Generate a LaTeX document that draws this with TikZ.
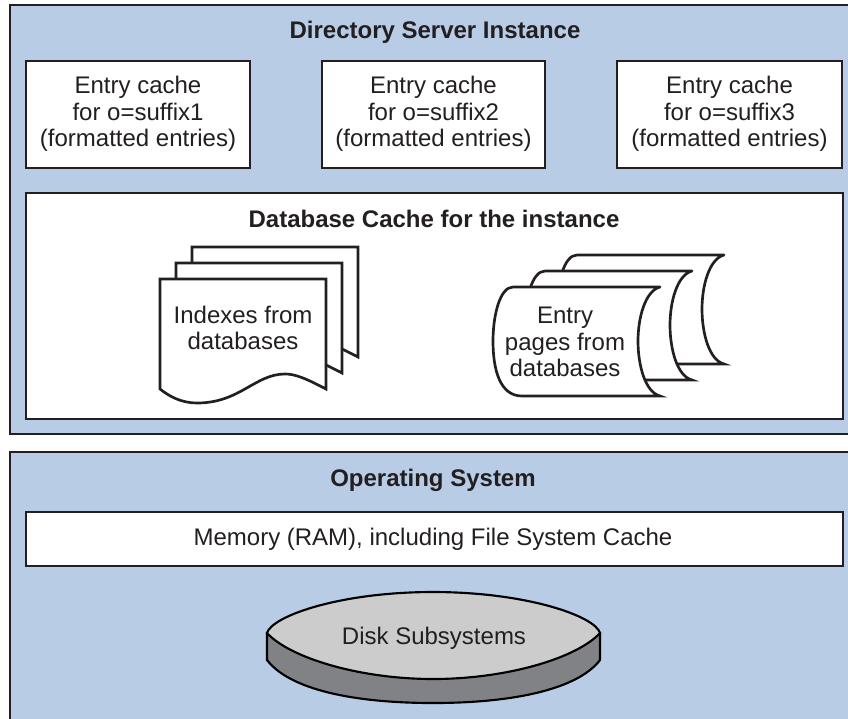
\documentclass[tikz,border=0pt]{standalone}
\usepackage{fontspec}
\setmainfont{Liberation Sans}
\definecolor{panelblue}{HTML}{B8CCE6}
\definecolor{inkdark}{HTML}{231F20}
\definecolor{disktop}{HTML}{CCCCCC}
\definecolor{diskside}{HTML}{808285}
\tikzset{
    panel/.style={draw=inkdark,line width=2.2pt,fill=panelblue},
    whitebox/.style={draw=inkdark,line width=2.2pt,fill=white},
    thinbox/.style={draw=inkdark,line width=1pt,fill=white},
    sheet/.style={draw=inkdark,line width=2pt,fill=white,line join=miter},
    txt/.style={text=inkdark,align=center,font=\fontsize{18}{20}\selectfont,inner sep=0pt},
    txtbold/.style={txt,font=\fontsize{18}{20}\selectfont\bfseries},
  }
\begin{document}
\begin{tikzpicture}[x=0.75pt,y=-0.75pt]
    \useasboundingbox (0,0) rectangle (848,718);
    \clip (0,0) rectangle (848,718);
    %panneaux
    \draw[panel] (10,5) rectangle (870,434);
    \draw[panel] (10,452) rectangle (870,740);
    \node[txtbold] (instance) at (435,32) {Directory Server Instance};
    \node[txtbold] (os) at (433,480) {Operating System};
    %caches
    \foreach \name/\xa/\xb/\suffix in {one/26/250/1,two/322/545/2,three/617/842/3}{
      \draw[whitebox] (\xa,61) rectangle (\xb,168);
      \node[txt] (cache\name) at ({(\xa+\xb)/2},114) {Entry cache\\for o=suffix\suffix\\(formatted entries)};
    }
    \draw[thinbox] (26,193) rectangle (843,419);
    \node[txtbold] (dbcache) at (434,219) {Database Cache for the instance};
    %feuilles
    \foreach \dx/\dy in {32/-32,16/-16,0/0}{
      \begin{scope}[shift={(\dx,\dy)}]
        \draw[sheet] (160,279) -- (326,279) -- (326,389)
          .. controls (305,378) and (295,374) .. (285,374)
          .. controls (255,374) and (240,403) .. (197,403)
          .. controls (182,403) and (170,397) .. (160,389) -- cycle;
      \end{scope}
    }
    \node[txt] (indexes) at (243,328) {Indexes from\\databases};
    %pages
    \foreach \dx/\dy in {64/-32,32/-16,0/0}{
      \begin{scope}[shift={(\dx,\dy)}]
        \draw[sheet,line cap=round] (660,287) -- (513,287)
          .. controls (500,287) and (493,315) .. (493,341)
          .. controls (493,370) and (500,396) .. (522,396) -- (660,396)
          .. controls (645,392) and (638,365) .. (638,341)
          .. controls (638,318) and (645,291) .. (660,287);
      \end{scope}
    }
    \node[txt] (pages) at (565,342) {Entry\\pages from\\databases};
    %systeme
    \draw[whitebox] (26,512) rectangle (843,566);
    \node[txt] (memory) at (433,539) {Memory (RAM), including File System Cache};
    \draw[draw=black,line width=1.6pt,fill=diskside] (267,633) -- (267,660)
      .. controls (290,690) and (355,703) .. (433,703)
      .. controls (511,703) and (577,690) .. (600,660) -- (600,633) -- cycle;
    \draw[draw=black,line width=1.6pt,fill=disktop] (267,633)
      .. controls (272,616) and (340,592) .. (433,592)
      .. controls (526,592) and (595,616) .. (600,633)
      .. controls (577,658) and (507,679) .. (433,679)
      .. controls (360,679) and (290,658) .. (267,633) -- cycle;
    \node[txt] (disks) at (434,638) {Disk Subsystems};
\end{tikzpicture}
\end{document}
